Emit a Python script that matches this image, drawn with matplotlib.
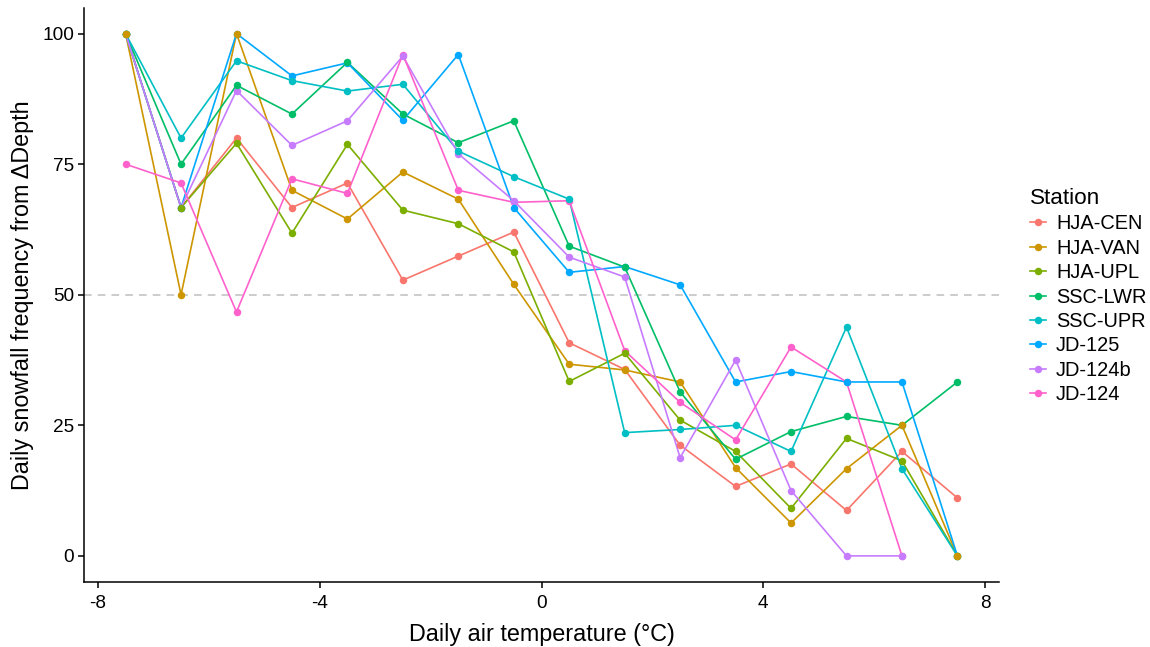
import numpy as np
import matplotlib
matplotlib.use("Agg")
import matplotlib.pyplot as plt
from matplotlib.lines import Line2D

plt.rcParams['font.family'] = ['Liberation Sans', 'DejaVu Sans']

temps = [-7.5, -6.5, -5.5, -4.5, -3.5, -2.5, -1.5, -0.5, 0.5, 1.5, 2.5, 3.5, 4.5, 5.5, 6.5, 7.5]
nan = np.nan

hja_cen = [100, 66.7, 80.0, 66.7, 71.4, 52.8, 57.4, 62.0, 40.8, 35.7, 21.2, 13.3, 17.6, 8.7, 20.0, 11.1]
hja_van = [100, 50.0, 100, 70.0, 64.5, 73.5, 68.3, 52.0, 36.7, 35.6, 33.3, 16.9, 6.3, 16.7, 25.0, 0]
hja_upl = [100, 66.7, 79.0, 61.8, 78.8, 66.2, 63.6, 58.2, 33.4, 38.8, 26.0, 20.0, 9.1, 22.5, 18.2, 0]
ssc_lwr = [100, 75.0, 90.1, 84.6, 94.5, 84.6, 79.1, 83.3, 59.3, 55.3, 31.4, 18.5, 23.8, 26.7, 25.0, 33.3]
ssc_upr = [100, 80.0, 94.8, 91.0, 89.0, 90.3, 77.5, 72.6, 68.3, 23.6, 24.2, 25.0, 20.0, 43.8, 16.7, 0]
jd_125 = [100, 66.7, 100, 91.9, 94.4, 83.4, 96.0, 66.7, 54.3, 55.4, 51.9, 33.3, 35.3, 33.3, 33.3, 0]
jd_124b = [100, 66.7, 89.1, 78.6, 83.3, 95.7, 77.0, 68.0, 57.2, 53.4, 18.8, 37.5, 12.5, 0, 0, nan]
jd_124 = [75.0, 71.4, 46.7, 72.2, 69.4, 96.0, 70.0, 67.7, 68.0, 39.3, 29.4, 22.2, 40.0, 33.3, 0, nan]

stations = ["HJA-CEN", "HJA-VAN", "HJA-UPL", "SSC-LWR", "SSC-UPR", "JD-125", "JD-124b", "JD-124"]
series = [hja_cen, hja_van, hja_upl, ssc_lwr, ssc_upr, jd_125, jd_124b, jd_124]
colors = ["#F8766D", "#CD9600", "#7CAE00", "#00BE67", "#00BFC4", "#00A9FF", "#C77CFF", "#FF61CC"]
# drawing order of the point layer (row order of the source data)
point_order = [0, 7, 6, 5, 3, 4, 2, 1]

fig = plt.figure(figsize=(11.5, 6.47), dpi=100)
ax = fig.add_axes([84/1150, 1-582/647, (999-84)/1150, (582-7.5)/647])

ax.axhline(50, color="#BEBEBE", linestyle=(0, (5, 4)), linewidth=1.1, zorder=1)

for s, c in zip(series, colors):
    ax.plot(temps, s, color=c, linewidth=1.2, zorder=2, solid_capstyle='butt')
for i in point_order:
    ax.plot(temps, series[i], linestyle='none', marker='o', markersize=5.4,
            color=colors[i], markeredgewidth=0, zorder=3)

ax.set_xlim(-8.25, 8.25)
ax.set_ylim(-5, 105)
ax.set_xticks([-8, -4, 0, 4, 8])
ax.set_xticklabels(["-8", "-4", "0", "4", "8"])
ax.set_yticks([0, 25, 50, 75, 100])
for sp in ["top", "right"]:
    ax.spines[sp].set_visible(False)
for sp in ["left", "bottom"]:
    ax.spines[sp].set_linewidth(1.1)
ax.tick_params(axis='x', pad=5)
ax.tick_params(axis='y', pad=3)
ax.tick_params(axis='both', labelsize=13.7, length=4, width=1.1, color='black', labelcolor='black')
ax.set_xlabel("Daily air temperature (°C)", fontsize=16.8, labelpad=8)
ax.set_ylabel("Daily snowfall frequency from ΔDepth", fontsize=16.8, labelpad=6)

handles = [Line2D([0], [0], color=c, linewidth=1.2, marker='o', markersize=5.4, markeredgewidth=0) for c in colors]
leg = fig.legend(handles, stations, title="Station", loc='center left',
                 bbox_to_anchor=(1022/1150, 1-296/647), frameon=False,
                 fontsize=14.4, title_fontsize=16.2, handlelength=0.8,
                 labelspacing=0.27, handletextpad=0.5, borderaxespad=0)
leg._legend_box.align = "left"

fig.savefig("out.png", dpi=100)
